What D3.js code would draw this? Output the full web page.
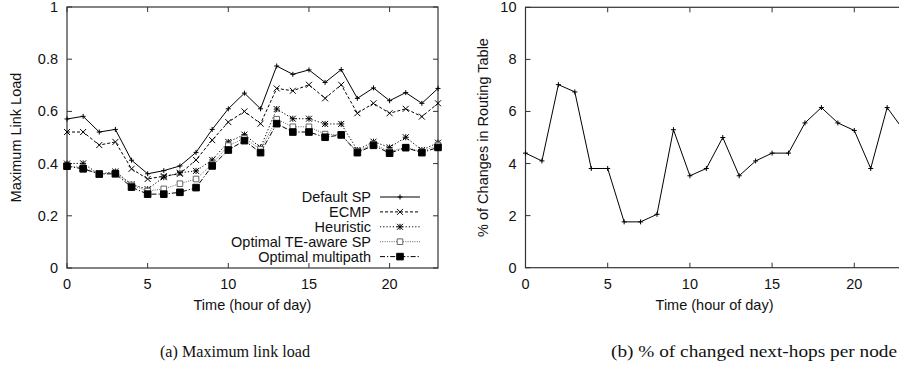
<!DOCTYPE html>
<html>
<head>
<meta charset="utf-8">
<script src="https://cdn.jsdelivr.net/npm/d3@7"></script>
<style>
  html, body { margin: 0; padding: 0; background: #fff; }
  svg { display: block; }
  .lbl { font-family: "Liberation Sans", Arial, sans-serif; font-size: 14.5px; fill: #111; }
  .cap { font-family: "Liberation Serif", "DejaVu Serif", serif; font-size: 17.5px; fill: #111; }
</style>
</head>
<body>
<svg id="chart" width="899" height="379"></svg>
<script>
'use strict'

const hours = [0, 1, 2, 3, 4, 5, 6, 7, 8, 9, 10, 11, 12, 13, 14, 15, 16, 17, 18, 19, 20, 21, 22, 23]

const seriesNames = ['Default SP', 'ECMP', 'Heuristic', 'Optimal TE-aware SP', 'Optimal multipath']
const defaultSP = [0.571, 0.581, 0.521, 0.531, 0.413, 0.361, 0.373, 0.391, 0.443, 0.531, 0.61, 0.67, 0.61, 0.774, 0.742, 0.759, 0.711, 0.76, 0.65, 0.69, 0.641, 0.672, 0.631, 0.688]
const ecmp = [0.521, 0.521, 0.471, 0.483, 0.38, 0.341, 0.352, 0.361, 0.414, 0.49, 0.559, 0.6, 0.553, 0.688, 0.679, 0.702, 0.65, 0.702, 0.593, 0.631, 0.593, 0.61, 0.58, 0.631]
const heuristic = [0.4, 0.401, 0.359, 0.37, 0.32, 0.302, 0.348, 0.365, 0.372, 0.414, 0.483, 0.511, 0.462, 0.609, 0.572, 0.572, 0.552, 0.552, 0.452, 0.484, 0.462, 0.501, 0.452, 0.48]
const optTE = [0.39, 0.385, 0.36, 0.365, 0.318, 0.295, 0.303, 0.323, 0.341, 0.398, 0.469, 0.497, 0.455, 0.57, 0.541, 0.541, 0.513, 0.51, 0.446, 0.475, 0.446, 0.462, 0.446, 0.471]
const multipath = [0.39, 0.38, 0.36, 0.361, 0.31, 0.283, 0.283, 0.29, 0.308, 0.391, 0.452, 0.488, 0.442, 0.553, 0.521, 0.521, 0.501, 0.51, 0.442, 0.47, 0.44, 0.461, 0.442, 0.462]

const routeChanges = [4.4, 4.1, 7.03, 6.75, 3.81, 3.81, 1.76, 1.76, 2.05, 5.3, 3.53, 3.81, 5.0, 3.53, 4.1, 4.4, 4.4, 5.56, 6.15, 5.56, 5.27, 3.81, 6.15, 5.28]

const xTicks = [0, 5, 10, 15, 20]
const loadTicks = [0, 0.2, 0.4, 0.6, 0.8, 1]
const changeTicks = [0, 2, 4, 6, 8, 10]

const svg = d3.select('#chart')

// marker shapes, gnuplot style
const markers = {
  plus: (s) => `M${-s},0H${s}M0,${-s}V${s}`,
  cross: (s) => `M${-s},${-s}L${s},${s}M${-s},${s}L${s},${-s}`,
  star: (s) => `M${-s},0H${s}M0,${-s}V${s}M${-s},${-s}L${s},${s}M${-s},${s}L${s},${-s}`,
  box: (s) => `M${-s},${-s}H${s}V${s}H${-s}Z`
}

const styles = [
  { dash: null, color: '#000', mark: 'plus', size: 2.5, fill: 'none' },
  { dash: '3,2', color: '#000', mark: 'cross', size: 3, fill: 'none' },
  { dash: '1.2,2', color: '#000', mark: 'star', size: 3, fill: 'none' },
  { dash: '1,1.3', color: '#666', mark: 'box', size: 2.8, fill: '#fff' },
  { dash: '5,2,1.2,2', color: '#000', mark: 'box', size: 3.3, fill: '#000' }
]

const drawFrame = (x, y, yTicks, yFmt, yLabel, yLabelX) => {
  const [x0, x1] = x.range()
  const [y0, y1] = y.range()
  const g = svg.append('g')

  g.append('rect')
    .attr('x', x0).attr('y', y1)
    .attr('width', x1 - x0).attr('height', y0 - y1)
    .attr('fill', 'none').attr('stroke', '#333').attr('stroke-width', 1.2)

  const tl = 5
  xTicks.forEach((t) => {
    g.append('path').attr('d', `M${x(t)},${y0}v${-tl}M${x(t)},${y1}v${tl}`)
      .attr('stroke', '#333').attr('stroke-width', 1)
    g.append('text').attr('class', 'lbl')
      .attr('x', x(t)).attr('y', y0 + 21)
      .attr('text-anchor', 'middle').text(t)
  })
  yTicks.forEach((t) => {
    g.append('path').attr('d', `M${x0},${y(t)}h${tl}`)
      .attr('stroke', '#333').attr('stroke-width', 1)
    if (x1 < 899) {
      g.append('path').attr('d', `M${x1},${y(t)}h${-tl}`)
        .attr('stroke', '#333').attr('stroke-width', 1)
    }
    g.append('text').attr('class', 'lbl')
      .attr('x', x0 - 9).attr('y', y(t) + 5)
      .attr('text-anchor', 'end').text(yFmt(t))
  })

  g.append('text').attr('class', 'lbl')
    .attr('x', (x0 + x1) / 2).attr('y', y0 + 42)
    .attr('text-anchor', 'middle').text('Time (hour of day)')

  g.append('text').attr('class', 'lbl')
    .attr('transform', `translate(${yLabelX},${(y0 + y1) / 2}) rotate(-90)`)
    .attr('text-anchor', 'middle').attr('dy', '0.35em').text(yLabel)
}

const drawSeries = (x, y, values, st) => {
  const line = d3.line().x((d, i) => x(hours[i])).y((d) => y(d))
  const g = svg.append('g')
  g.append('path').datum(values)
    .attr('d', line)
    .attr('fill', 'none')
    .attr('stroke', st.color)
    .attr('stroke-width', 1)
    .attr('stroke-dasharray', st.dash)
  g.selectAll('path.mk').data(values).enter()
    .append('path').attr('class', 'mk')
    .attr('transform', (d, i) => `translate(${x(hours[i])},${y(d)})`)
    .attr('d', markers[st.mark](st.size))
    .attr('fill', st.fill)
    .attr('stroke', st.color)
    .attr('stroke-width', 1)
}

// (a) maximum link load
const xA = d3.scaleLinear().domain([0, 23]).range([67, 438])
const yA = d3.scaleLinear().domain([0, 1]).range([268, 7])
drawFrame(xA, yA, loadTicks, (t) => t === 0 || t === 1 ? String(t) : t.toFixed(1), 'Maximum Link Load', 16)

const loadSeries = [defaultSP, ecmp, heuristic, optTE, multipath]
loadSeries.forEach((vals, k) => drawSeries(xA, yA, vals, styles[k]))

// legend
const legend = svg.append('g')
seriesNames.forEach((name, k) => {
  const ly = 197 + k * 14.9
  const st = styles[k]
  legend.append('text').attr('class', 'lbl')
    .attr('x', 371).attr('y', ly + 5)
    .attr('text-anchor', 'end').text(name)
  legend.append('path').attr('d', `M380,${ly}H420`)
    .attr('stroke', st.color).attr('stroke-width', 1)
    .attr('stroke-dasharray', st.dash)
  legend.append('path')
    .attr('transform', `translate(400,${ly})`)
    .attr('d', markers[st.mark](st.size))
    .attr('fill', st.fill).attr('stroke', st.color).attr('stroke-width', 1)
})

// (b) changes in routing table
const xB = d3.scaleLinear().domain([0, 23]).range([525.5, 903.6])
const yB = d3.scaleLinear().domain([0, 10]).range([267.7, 7.3])
drawFrame(xB, yB, changeTicks, (t) => String(t), '% of Changes in Routing Table', 483)
drawSeries(xB, yB, routeChanges, styles[0])

// captions
svg.append('text').attr('class', 'cap')
  .attr('x', 160).attr('y', 357)
  .attr('textLength', 150).attr('lengthAdjust', 'spacingAndGlyphs')
  .text('(a) Maximum link load')
svg.append('text').attr('class', 'cap')
  .attr('x', 611).attr('y', 357)
  .attr('textLength', 286).attr('lengthAdjust', 'spacingAndGlyphs')
  .text('(b) % of changed next-hops per node')
</script>
</body>
</html>
